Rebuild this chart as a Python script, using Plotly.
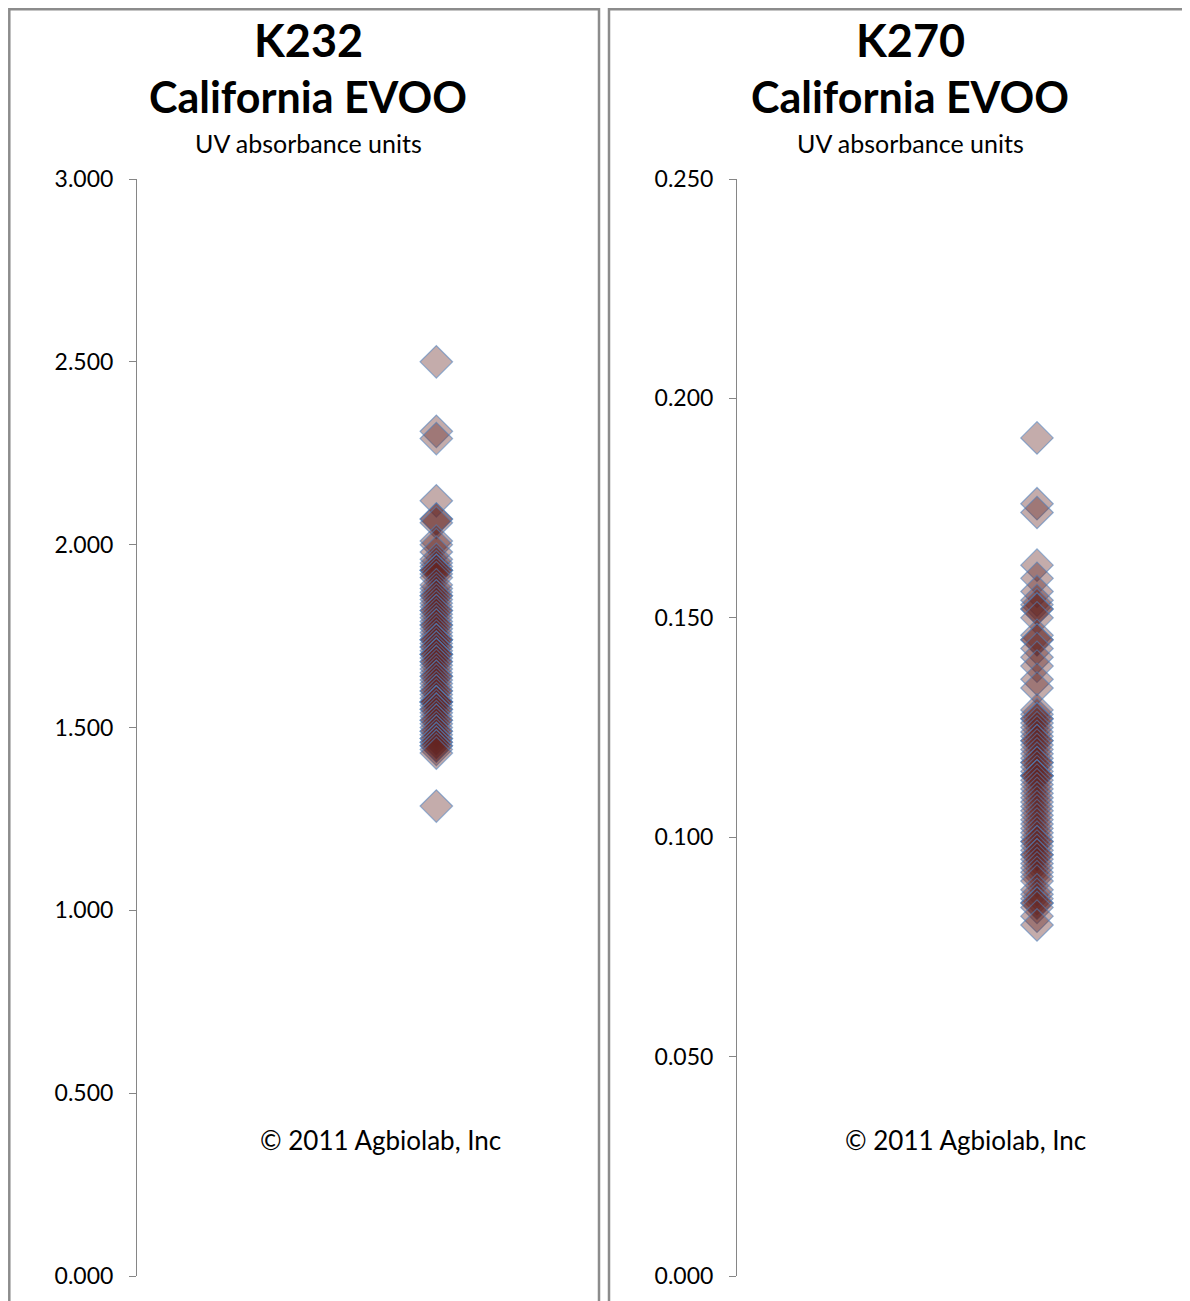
import plotly.graph_objects as go

W, H = 1190, 1301
OFF = 8  # page offset of the figure (body margin)

# ---- data ----
k232_values = [2.500, 2.31, 2.29, 2.12, 2.07, 2.07, 2.06, 2.01, 2.00, 1.98,
               1.96, 1.95, 1.94, 1.93, 1.93, 1.93, 1.92, 1.91, 1.89, 1.88,
               1.87, 1.86, 1.86, 1.85, 1.84, 1.83, 1.82, 1.82, 1.81, 1.80,
               1.79, 1.78, 1.78, 1.77, 1.76, 1.75, 1.74, 1.74, 1.74, 1.73,
               1.72, 1.72, 1.71, 1.70, 1.70, 1.70, 1.69, 1.68, 1.68, 1.67,
               1.66, 1.65, 1.64, 1.64, 1.63, 1.62, 1.61, 1.60, 1.60, 1.59,
               1.58, 1.57, 1.57, 1.57, 1.57, 1.56, 1.55, 1.55, 1.54, 1.53,
               1.52, 1.52, 1.51, 1.50, 1.49, 1.49, 1.48, 1.47, 1.47, 1.46,
               1.46, 1.45, 1.45, 1.44, 1.43, 1.285]
k270_values = [0.191, 0.176, 0.174, 0.162, 0.159, 0.156, 0.154, 0.153, 0.152, 0.152,
               0.150, 0.146, 0.145, 0.145, 0.143, 0.141, 0.139, 0.136, 0.134, 0.129,
               0.128, 0.127, 0.127, 0.126, 0.125, 0.124, 0.123, 0.122, 0.122, 0.121,
               0.120, 0.119, 0.118, 0.117, 0.117, 0.116, 0.115, 0.114, 0.114, 0.114,
               0.113, 0.112, 0.111, 0.110, 0.109, 0.108, 0.107, 0.106, 0.105, 0.104,
               0.103, 0.102, 0.101, 0.100, 0.099, 0.099, 0.098, 0.097, 0.096, 0.096,
               0.095, 0.094, 0.093, 0.092, 0.091, 0.090, 0.088, 0.087, 0.086, 0.085,
               0.085, 0.084, 0.082, 0.080]
k232_ticks = [0.0, 0.5, 1.0, 1.5, 2.0, 2.5, 3.0]
k270_ticks = [0.0, 0.05, 0.10, 0.15, 0.20, 0.25]
panel_titles = ["K232", "K270"]
subtitle = "California EVOO"
units_label = "UV absorbance units"
credit = "\u00a9 2011 Agbiolab, Inc"


def fx(p):
    return (p - OFF) / W


def fy(p):
    return (H - (p - OFF)) / H


FONT = "Lato, 'Open Sans', sans-serif"
GRAY = "#868686"

fig = go.Figure()

marker = dict(symbol="diamond", size=25,
              color="rgba(99,37,35,0.38)",
              line=dict(color="rgba(79,129,189,0.58)", width=1.2))

fig.add_trace(go.Scatter(x=[1] * len(k232_values), y=k232_values, mode="markers",
                         marker=marker, xaxis="x", yaxis="y", showlegend=False,
                         hoverinfo="y"))
fig.add_trace(go.Scatter(x=[1] * len(k270_values), y=k270_values, mode="markers",
                         marker=marker, xaxis="x2", yaxis="y2", showlegend=False,
                         hoverinfo="y"))


def yaxis_cfg(ticks, rng, anchor):
    return dict(domain=[fy(1276), fy(179)], range=rng, anchor=anchor,
                tickvals=ticks, ticktext=["%.3f" % t for t in ticks],
                ticks="outside", ticklen=7, tickcolor=GRAY, tickwidth=1,
                showline=True, linecolor=GRAY, linewidth=1, automargin=False,
                showgrid=False, zeroline=False, ticklabelstandoff=11,
                tickfont=dict(family=FONT, size=23, color="#000000"))


fig.update_layout(
    template=None,
    width=W, height=H, autosize=False,
    margin=dict(l=0, r=0, t=0, b=0, pad=0),
    paper_bgcolor="white", plot_bgcolor="white",
    xaxis=dict(domain=[fx(137), fx(586)], range=[0, 1.5], visible=False,
               anchor="y", automargin=False),
    xaxis2=dict(domain=[fx(737), fx(1187)], range=[0, 1.5], visible=False,
                anchor="y2", automargin=False),
    yaxis=yaxis_cfg(k232_ticks, [0, 3.0], "x"),
    yaxis2=yaxis_cfg(k270_ticks, [0, 0.25], "x2"),
)

# panel frames
for x0, x1 in [(9.3, 599), (609, 1220)]:
    fig.add_shape(type="rect", xref="paper", yref="paper",
                  x0=fx(x0), x1=fx(x1), y0=fy(1360), y1=fy(9.3),
                  line=dict(color="#8c8c8c", width=2.5), fillcolor="rgba(0,0,0,0)",
                  layer="below")

anns = []
for cx, cred_x, title in [(308, 380, panel_titles[0]), (910, 965, panel_titles[1])]:
    anns.append(dict(text="<b>%s</b>" % title, x=fx(cx), y=fy(40), xref="paper", yref="paper",
                     showarrow=False, xanchor="center", yanchor="middle",
                     font=dict(family=FONT, size=45, color="#000")))
    anns.append(dict(text="<b>%s</b>" % subtitle, x=fx(cx), y=fy(97), xref="paper", yref="paper",
                     showarrow=False, xanchor="center", yanchor="middle",
                     font=dict(family=FONT, size=43, color="#000")))
    anns.append(dict(text=units_label, x=fx(cx), y=fy(143), xref="paper", yref="paper",
                     showarrow=False, xanchor="center", yanchor="middle",
                     font=dict(family=FONT, size=25, color="#000")))
    anns.append(dict(text=credit, x=fx(cred_x), y=fy(1140), xref="paper", yref="paper",
                     showarrow=False, xanchor="center", yanchor="middle",
                     font=dict(family=FONT, size=26, color="#000")))
fig.update_layout(annotations=anns)

fig.write_html("out.html")
